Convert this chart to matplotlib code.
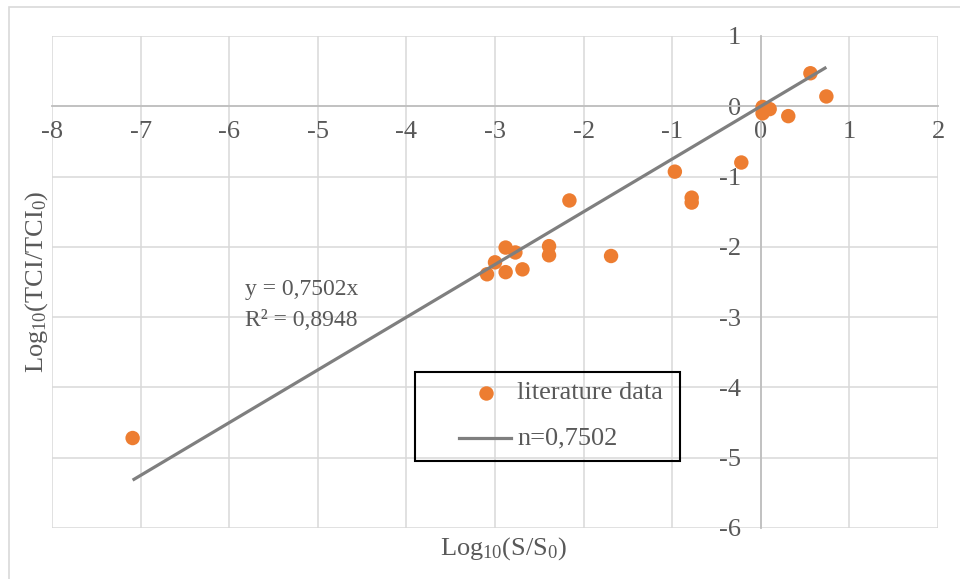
import numpy as np
import matplotlib
matplotlib.use('Agg')
import matplotlib.pyplot as plt
from matplotlib.patches import Rectangle
from matplotlib.lines import Line2D

plt.rcParams['font.family'] = ['Liberation Serif', 'DejaVu Serif']
plt.rcParams['mathtext.fontset'] = 'custom'
plt.rcParams['mathtext.rm'] = 'Liberation Serif'
plt.rcParams['mathtext.it'] = 'Liberation Serif:italic'
plt.rcParams['mathtext.default'] = 'rm'
plt.rcParams['axes.unicode_minus'] = False

# Données littérature : log10(S/S0) et log10(TCI/TCI0)
log_s = [-7.09, -3.09, -3.00, -2.88, -2.88, -2.77, -2.69, -2.39, -2.39,
         -2.16, -1.69, -0.97, -0.78, -0.78, -0.22, 0.02, 0.02, 0.10,
         0.31, 0.56, 0.74]
log_tci = [-4.72, -2.39, -2.22, -2.01, -2.36, -2.08, -2.32, -1.99, -2.12,
           -1.34, -2.13, -0.93, -1.30, -1.37, -0.80, -0.01, -0.10, -0.04,
           -0.14, 0.47, 0.14]

slope = 0.7502
r2 = 0.8948
x_ticks = list(range(-8, 3))
y_ticks = list(range(-6, 2))

ORANGE = '#ED7D31'
GREY_LINE = '#7F7F7F'
TXT = '#595959'
GRID = '#D9D9D9'

W, H = 960, 579
fig = plt.figure(figsize=(W / 100, H / 100), dpi=100)
ax = fig.add_axes([52 / W, 1 - 528 / H, (938 - 52) / W, (528 - 36) / H])

# cadre extérieur du graphique
fig.add_artist(Rectangle((9 / W, -0.05), 1.2, 1 - 7 / H + 0.05,
                         transform=fig.transFigure, fill=False,
                         ec=GRID, lw=1.2))

ax.scatter(log_s, log_tci, s=108, color=ORANGE, zorder=3,
           edgecolors='none')

# droite de régression passant par l'origine
xs = np.array([min(log_s), max(log_s)])
ax.plot(xs, slope * xs, color=GREY_LINE, lw=2.3, zorder=4,
        solid_capstyle='butt')

ax.set_xlim(-8, 2)
ax.set_ylim(-6, 1)
ax.set_xticks(x_ticks)
ax.set_yticks(y_ticks)
ax.set_xticklabels([str(v) for v in x_ticks])
ax.set_yticklabels([str(v) for v in y_ticks])
ax.grid(True, color=GRID, lw=1.1, zorder=0)
ax.set_axisbelow(True)

for side in ['top', 'right']:
    ax.spines[side].set_visible(False)
ax.spines['left'].set_position(('data', 0))
ax.spines['bottom'].set_position(('data', 0))
for side in ['left', 'bottom']:
    ax.spines[side].set_color('#BFBFBF')
    ax.spines[side].set_linewidth(1.3)
    ax.spines[side].set_zorder(1)

ax.tick_params(axis='x', length=0, pad=10.5, labelsize=19, labelcolor=TXT)
ax.tick_params(axis='y', length=0, pad=14, labelsize=19, labelcolor=TXT)

# titres des axes
fig.text(503 / W, 1 - 549 / H, r'Log$_{10}$(S/S$_0$)', ha='center',
         va='center', fontsize=19, color=TXT)
fig.text(37 / W, 1 - 282 / H, r'Log$_{10}$(TCI/TCI$_0$)', ha='center',
         va='center', rotation=90, fontsize=19, color=TXT)

# équation de la tendance
eq = f'y = {slope:.4f}x'.replace('.', ',')
rr = f'R² = {r2:.4f}'.replace('.', ',')
fig.text(245 / W, 1 - 290 / H, eq, ha='left', va='center',
         fontsize=17, color=TXT)
fig.text(245 / W, 1 - 320 / H, rr, ha='left', va='center',
         fontsize=17, color=TXT)

# légende
fig.add_artist(Rectangle((415 / W, 1 - 461 / H), 265 / W, 89 / H,
                         transform=fig.transFigure, fill=False,
                         ec='black', lw=1.5))
fig.add_artist(Line2D([486 / W], [1 - 393 / H], transform=fig.transFigure,
                      marker='o', ms=10.4, color=ORANGE, mec='none', ls=''))
fig.add_artist(Line2D([459 / W, 511 / W], [1 - 438 / H] * 2,
                      transform=fig.transFigure, color=GREY_LINE, lw=2.3))
fig.text(517 / W, 1 - 393 / H, 'literature data', ha='left', va='center',
         fontsize=19, color=TXT)
fig.text(517 / W, 1 - 438 / H, f'n={slope:.4f}'.replace('.', ','),
         ha='left', va='center', fontsize=19, color=TXT)

plt.savefig('out.png', dpi=100)
plt.close()
